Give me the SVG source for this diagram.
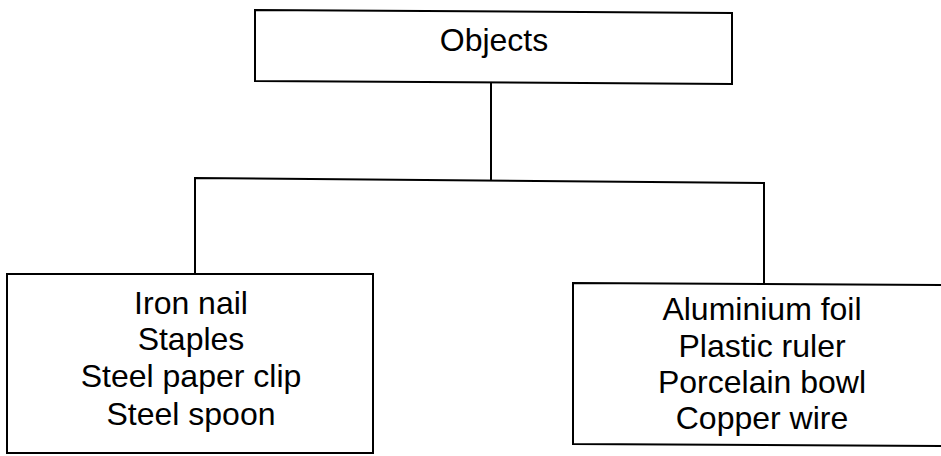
<svg xmlns="http://www.w3.org/2000/svg" width="941" height="456" viewBox="0 0 941 456">
<style>
.box{fill:#fff;stroke:#000;stroke-width:2}
.ln{fill:none;stroke:#000;stroke-width:2}
.t{font-family:"Liberation Sans",Arial,sans-serif;font-size:32px;fill:#000;text-anchor:middle}
</style>
<rect width="941" height="456" fill="#fff"/>
<g id="connectors">
<polyline class="ln" points="491,83 491,181"/>
<polyline class="ln" points="195,274 195,178 764,183 764,284"/>
</g>
<g id="node-objects">
<polygon class="box" points="255,10 732,13 732,84 255,81"/>
<text class="t" x="494" y="51">Objects</text>
</g>
<g id="node-left">
<polygon class="box" points="7,274 373,274 373,453 7,453"/>
<text class="t" x="191" y="314">Iron nail</text>
<text class="t" x="191" y="350">Staples</text>
<text class="t" x="191" y="387">Steel paper clip</text>
<text class="t" x="191" y="425">Steel spoon</text>
</g>
<g id="node-right">
<polygon class="box" points="573,283 950,285 950,446 573,444"/>
<text class="t" x="762" y="320">Aluminium foil</text>
<text class="t" x="762" y="357">Plastic ruler</text>
<text class="t" x="762" y="393">Porcelain bowl</text>
<text class="t" x="762" y="429">Copper wire</text>
</g>
</svg>
